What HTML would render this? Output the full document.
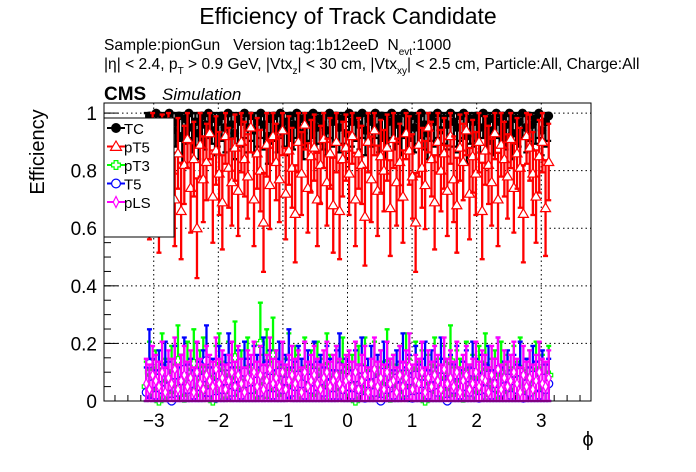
<!DOCTYPE html>
<html><head><meta charset="utf-8"><style>
body{margin:0;background:#fff;}
svg{display:block;font-family:"Liberation Sans",sans-serif;}
</style></head><body>
<svg id="c" width="696" height="472" viewBox="0 0 696 472">
<text x="348" y="24" font-size="23" text-anchor="middle">Efficiency of Track Candidate</text>
<text x="104" y="50" font-size="15.6" style="white-space:pre">Sample:pionGun   Version tag:1b12eeD  N<tspan font-size="10" dy="5">evt</tspan><tspan dy="-5">:1000</tspan></text>
<text x="104" y="69" font-size="15.6">|η| &lt; 2.4, p<tspan font-size="10" dy="5">T</tspan><tspan dy="-5"> &gt; 0.9 GeV, |Vtx</tspan><tspan font-size="10" dy="5">z</tspan><tspan dy="-5">| &lt; 30 cm, |Vtx</tspan><tspan font-size="10" dy="5">xy</tspan><tspan dy="-5">| &lt; 2.5 cm, Particle:All, Charge:All</tspan></text>
<text x="104" y="100" font-size="19" font-weight="bold">CMS</text>
<text x="162" y="100" font-size="17" font-style="italic">Simulation</text>
<text transform="translate(44,152) rotate(-90)" font-size="20" text-anchor="middle">Efficiency</text>
<text x="588" y="446" font-size="20" text-anchor="middle">ϕ</text>
<g id="grid"></g><g id="axes"></g><g id="marks"></g><g id="legend"></g>
<rect x="104" y="103" width="487" height="298" fill="none" stroke="#000" stroke-width="1"/>
</svg>
<script>
const tc=[0.97,0.99,0.95,1.0,0.93,0.98,0.96,1.0,0.94,0.97,0.99,0.92,0.98,1.0,0.95,0.97,0.93,0.99,0.96,1.0,0.98,0.94,0.97,0.99,0.95,1.0,0.96,0.93,0.98,0.97,1.0,0.95,0.99,0.94,0.97,1.0,0.96,0.92,0.98,0.99,0.95,1.0,0.97,0.94,0.99,0.96,1.0,0.98,0.93,0.97,0.99,1.0,0.95,0.98,0.96,0.94,1.0,0.97,0.99,0.95,0.98,0.93,1.0,0.97,
0.99,0.96,1.0,0.94,0.98,0.97,1.0,0.95,0.99,0.93,0.97,1.0,0.96,0.98,0.94,1.0,0.97,0.99,0.95,0.98,1.0,0.96,0.93,0.99,0.97,1.0,0.94,0.98,0.96,1.0,0.97,0.95,0.99,1.0,0.92,0.98,0.97,0.99,0.95,1.0,0.96,0.98,0.94,1.0,0.97,0.99,0.96,1.0,0.93,0.98,0.97,1.0,0.95,0.99,0.96,0.98,1.0,0.94,0.97,0.99];
const pt5=[0.85,0.72,0.9,0.78,0.68,0.88,0.75,0.95,0.8,0.7,0.86,0.66,0.82,0.91,0.74,0.84,0.6,0.89,0.77,0.83,0.93,0.71,0.87,0.79,0.69,0.92,0.81,0.76,0.88,0.73,0.9,0.84,0.78,0.95,0.7,0.86,0.8,0.62,0.89,0.75,0.92,0.83,0.77,0.94,0.72,0.87,0.81,0.65,0.9,0.79,0.96,0.74,0.85,0.88,0.7,0.82,0.91,0.76,0.86,0.68,0.9,0.66,0.84,0.88,
0.79,0.92,0.7,0.86,0.82,0.64,0.9,0.77,0.94,0.73,0.85,0.8,0.88,0.67,0.91,0.76,0.83,0.71,0.93,0.87,0.78,0.62,0.89,0.81,0.75,0.95,0.84,0.69,0.9,0.8,0.86,0.73,0.92,0.77,0.68,0.88,0.83,0.94,0.72,0.85,0.79,0.9,0.66,0.87,0.82,0.76,0.93,0.7,0.89,0.84,0.78,0.91,0.74,0.86,0.81,0.65,0.92,0.88,0.79,0.71,0.85,0.9,0.67,0.83];
const pt3=[0.05,0.1,0.03,0.08,0.0,0.12,0.06,0.02,0.09,0.04,0.14,0.07,0.01,0.1,0.05,0.13,0.03,0.08,0.11,0.04,0.06,0.0,0.09,0.12,0.05,0.02,0.1,0.07,0.15,0.03,0.08,0.06,0.11,0.04,0.09,0.02,0.2,0.07,0.13,0.05,0.16,0.08,0.03,0.1,0.06,0.12,0.04,0.09,0.07,0.02,0.11,0.05,0.08,0.03,0.1,0.06,0.04,0.12,0.07,0.02,0.09,0.05,0.11,0.06,
0.03,0.07,0.0,0.09,0.04,0.11,0.02,0.06,0.1,0.03,0.08,0.05,0.13,0.01,0.07,0.04,0.09,0.02,0.12,0.06,0.03,0.1,0.05,0.08,0.0,0.07,0.04,0.11,0.06,0.02,0.09,0.05,0.14,0.03,0.08,0.06,0.01,0.1,0.04,0.07,0.02,0.09,0.05,0.12,0.03,0.06,0.08,0.02,0.1,0.04,0.07,0.03,0.09,0.05,0.11,0.02,0.06,0.08,0.04,0.1,0.03,0.07,0.05,0.09];
const t5=[0.03,0.13,0.06,0.02,0.08,0.04,0.1,0.05,0.0,0.09,0.03,0.07,0.11,0.04,0.06,0.02,0.1,0.05,0.08,0.14,0.03,0.06,0.01,0.09,0.04,0.07,0.12,0.03,0.05,0.08,0.02,0.1,0.06,0.04,0.09,0.07,0.03,0.11,0.05,0.08,0.02,0.06,0.1,0.04,0.07,0.13,0.03,0.05,0.09,0.06,0.02,0.08,0.04,0.1,0.05,0.07,0.03,0.09,0.06,0.02,0.08,0.12,0.04,0.06,
0.05,0.02,0.08,0.04,0.11,0.01,0.06,0.09,0.03,0.07,0.0,0.1,0.04,0.06,0.02,0.08,0.05,0.12,0.03,0.07,0.01,0.09,0.04,0.06,0.1,0.02,0.08,0.05,0.03,0.11,0.06,0.0,0.07,0.04,0.09,0.02,0.05,0.08,0.03,0.1,0.06,0.01,0.07,0.04,0.09,0.02,0.06,0.11,0.03,0.05,0.08,0.02,0.07,0.04,0.1,0.01,0.06,0.03,0.09,0.05,0.02,0.08,0.04,0.06];
const pls=[0.06,0.04,0.09,0.07,0.05,0.1,0.03,0.08,0.06,0.11,0.04,0.07,0.09,0.05,0.08,0.03,0.1,0.06,0.04,0.09,0.07,0.05,0.11,0.06,0.08,0.04,0.07,0.1,0.05,0.09,0.06,0.03,0.08,0.07,0.1,0.05,0.09,0.04,0.07,0.11,0.06,0.08,0.05,0.1,0.04,0.07,0.09,0.06,0.08,0.03,0.1,0.05,0.07,0.09,0.06,0.04,0.08,0.1,0.05,0.07,0.09,0.06,0.04,0.07,
0.08,0.05,0.1,0.04,0.07,0.09,0.03,0.06,0.11,0.05,0.08,0.04,0.1,0.06,0.07,0.03,0.09,0.05,0.08,0.12,0.04,0.07,0.06,0.1,0.03,0.08,0.05,0.09,0.07,0.04,0.11,0.06,0.08,0.05,0.1,0.03,0.07,0.09,0.04,0.06,0.1,0.05,0.08,0.07,0.03,0.09,0.06,0.11,0.04,0.08,0.05,0.07,0.1,0.06,0.03,0.09,0.05,0.08,0.04,0.07,0.1,0.06,0.05,0.08];
const xTicks=[-3,-2,-1,0,1,2,3];
const xTickLabels=["\u22123","\u22122","\u22121","0","1","2","3"];
const yTicks=[0,0.2,0.4,0.6,0.8,1];
const yTickLabels=["0","0.2","0.4","0.6","0.8","1"];
const seriesNames=["TC","pT5","pT3","T5","pLS"];

const NS="http://www.w3.org/2000/svg";
const L=104,R=591,T=103,B=401,XMIN=-3.77,XMAX=3.77,YMIN=0,YMAX=1.035;
const sx=v=>L+(v-XMIN)/(XMAX-XMIN)*(R-L);
const sy=v=>B-(v-YMIN)/(YMAX-YMIN)*(B-T);
function mk(tag,attrs,parent){const e=document.createElementNS(NS,tag);for(const k in attrs)e.setAttribute(k,attrs[k]);parent.appendChild(e);return e;}
const grid=document.getElementById('grid'),axes=document.getElementById('axes'),marks=document.getElementById('marks'),leg=document.getElementById('legend');
xTicks.forEach((t,i)=>{
 const g=mk('line',{x1:sx(t),x2:sx(t),y1:T,y2:B,stroke:'#000','stroke-dasharray':'1.5,3','stroke-width':1},grid);
 
 const tk=mk('line',{x1:sx(t),x2:sx(t),y1:B,y2:B-12,stroke:'#000'},axes);
 
 const tx=mk('text',{x:sx(t),y:B+26,'font-size':19,'text-anchor':'middle'},axes);tx.textContent=xTickLabels[i];
 
});
for(let v=-3.6;v<=3.61;v+=0.2){const m=mk('line',{x1:sx(v),x2:sx(v),y1:B,y2:B-6,stroke:'#000'},axes);}
yTicks.forEach((t,i)=>{
 const g=mk('line',{x1:L,x2:R,y1:sy(t),y2:sy(t),stroke:'#000','stroke-dasharray':'1.5,3','stroke-width':1},grid);
 
 const tk=mk('line',{x1:L,x2:L+14,y1:sy(t),y2:sy(t),stroke:'#000'},axes);
 
 const tx=mk('text',{x:L-7,y:sy(t)+7,'font-size':19,'text-anchor':'end'},axes);tx.textContent=yTickLabels[i];
 
});
for(let v=0.05;v<1.03;v+=0.05){const m=mk('line',{x1:L,x2:L+7,y1:sy(v),y2:sy(v),stroke:'#000'},axes);}

function marker(type,x,y,col,parent,s){
 let e;
 if(type==='circleF') e=mk('circle',{cx:x,cy:y,r:4.5*s,fill:col},parent);
 else if(type==='tri') e=mk('polygon',{points:`${x},${y-5*s} ${x-5*s},${y+3.5*s} ${x+5*s},${y+3.5*s}`,fill:'#fff',stroke:col,'stroke-width':1.2},parent);
 else if(type==='cross'){const a=1.7*s,b=4*s;e=mk('polygon',{points:`${x-a},${y-b} ${x+a},${y-b} ${x+a},${y-a} ${x+b},${y-a} ${x+b},${y+a} ${x+a},${y+a} ${x+a},${y+b} ${x-a},${y+b} ${x-a},${y+a} ${x-b},${y+a} ${x-b},${y-a} ${x-a},${y-a}`,fill:'#fff',stroke:col,'stroke-width':1.2},parent);}
 else if(type==='circleO') e=mk('circle',{cx:x,cy:y,r:4*s,fill:'#fff',stroke:col,'stroke-width':1.2},parent);
 else e=mk('polygon',{points:`${x},${y-5*s} ${x-2.5*s},${y} ${x},${y+5*s} ${x+2.5*s},${y}`,fill:'#fff',stroke:col,'stroke-width':1.2},parent);
 return e;
}
const series=[[tc,'#000','circleF'],[pt5,'#f00','tri'],[pt3,'#0f0','cross'],[t5,'#00f','circleO'],[pls,'#f0f','diamond']];
const N=8;
series.forEach(([vals,col,type],si)=>{
 const g=mk('g',{},marks);
 const n=vals.length;
 vals.forEach((v,i)=>{
  const xv=-3.14+(i+0.5)*6.28/n;
  const e=Math.sqrt(Math.max(v*(1-v),0.06)/N);
  const up=Math.min(v+e,1),dn=Math.max(v-e,0);
  const x=sx(xv);
  const eb=mk('path',{d:`M${x},${sy(up)}V${sy(dn)}M${x-2.5},${sy(up)}H${x+2.5}M${x-2.5},${sy(dn)}H${x+2.5}`,stroke:col,'stroke-width':2.3,fill:'none'},g);
  
  const m=marker(type,x,sy(v),col,g,1);
  
 });
});
const lb=mk('rect',{x:104,y:118,width:70,height:119,fill:'#fff',stroke:'#000'},leg);

series.forEach(([v,col,type],i)=>{
 const y=128+i*18.5;
 const g=mk('g',{},leg);
 mk('line',{x1:107,x2:125,y1:y,y2:y,stroke:col,'stroke-width':2},g);
 marker(type,116,y,col,g,1.1);
 const t=mk('text',{x:124,y:y+6,'font-size':15},g);t.textContent=seriesNames[i];
});
</script>
</body></html>
